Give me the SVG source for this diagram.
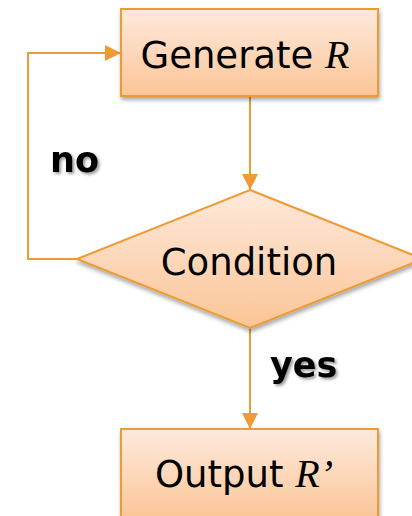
<svg xmlns="http://www.w3.org/2000/svg" width="412" height="516" viewBox="0 0 412 516">
<defs>
<linearGradient id="g" x1="0" y1="0" x2="0" y2="1">
<stop offset="0" stop-color="#fee9dc"/>
<stop offset="1" stop-color="#fbc596"/>
</linearGradient>
<filter id="sh" x="-10%" y="-10%" width="125%" height="130%">
<feGaussianBlur in="SourceAlpha" stdDeviation="2"/>
<feOffset dx="1" dy="3" result="b"/>
<feComponentTransfer><feFuncA type="linear" slope="0.35"/></feComponentTransfer>
<feMerge><feMergeNode/><feMergeNode in="SourceGraphic"/></feMerge>
</filter>
<filter id="tsh" x="-20%" y="-20%" width="150%" height="160%">
<feGaussianBlur in="SourceAlpha" stdDeviation="1.5"/>
<feOffset dx="2" dy="2"/>
<feComponentTransfer><feFuncA type="linear" slope="0.4"/></feComponentTransfer>
<feMerge><feMergeNode/><feMergeNode in="SourceGraphic"/></feMerge>
</filter>
<marker id="ah" viewBox="0 0 10 10" refX="10" refY="5" markerWidth="16" markerHeight="16" markerUnits="userSpaceOnUse" orient="auto">
<path d="M0,0 L10,5 L0,10 z" fill="#ee9a35"/>
</marker>
</defs>
<style>
.shape{fill:url(#g);stroke:#ee9a35;stroke-width:2;filter:url(#sh)}
.lbl{font-family:"DejaVu Sans",Verdana,sans-serif;font-size:37px;fill:#000;text-anchor:middle}
.var{font-family:"Liberation Serif","Times New Roman",serif;font-style:italic;font-size:40px}
.edge{fill:none;stroke:#ee9a35;stroke-width:2}
.el{font-family:"DejaVu Sans",Verdana,sans-serif;font-weight:bold;font-size:35px;fill:#000;filter:url(#tsh)}
</style>
<g id="connectors">
<line class="edge" x1="250" y1="97" x2="250" y2="190" marker-end="url(#ah)"/>
<polyline class="edge" points="77,259 28,259 28,53 121,53" marker-end="url(#ah)"/>
<line class="edge" x1="250" y1="328" x2="250" y2="429" marker-end="url(#ah)"/>
<text class="el" x="50" y="172">no</text>
<text class="el" x="270" y="377">yes</text>
</g>
<g id="generate">
<rect class="shape" x="121" y="9" width="257" height="87"/>
<text class="lbl" x="245" y="68">Generate <tspan class="var">R</tspan></text>
</g>
<g id="condition">
<polygon class="shape" points="250,190 423,259 250,328 77,259"/>
<text class="lbl" x="249" y="275">Condition</text>
</g>
<g id="output">
<rect class="shape" x="121" y="429" width="257" height="92"/>
<text class="lbl" x="244" y="487">Output <tspan class="var">R’</tspan></text>
</g>
</svg>
